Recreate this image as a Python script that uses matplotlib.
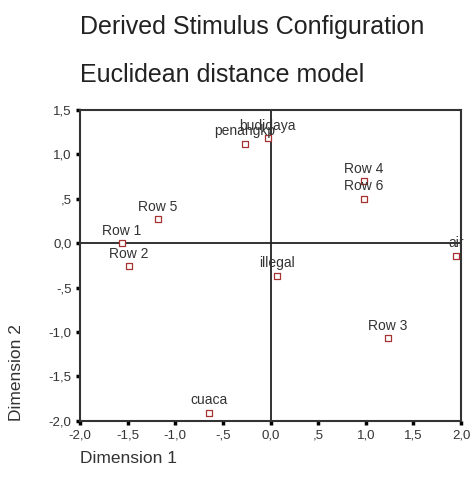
import matplotlib
matplotlib.use('Agg')
import matplotlib.pyplot as plt
from matplotlib.ticker import FuncFormatter

# Stimulus coordinates
labels = ["Row 1", "Row 2", "Row 5", "penangkp", "budidaya", "illegal",
          "Row 4", "Row 6", "air", "Row 3", "cuaca"]
dim1 = [-1.56, -1.49, -1.18, -0.27, -0.03, 0.07, 0.98, 0.98, 1.95, 1.23, -0.65]
dim2 = [0.00, -0.26, 0.27, 1.12, 1.18, -0.37, 0.70, 0.50, -0.14, -1.07, -1.91]

ticks_x = [-2.0, -1.5, -1.0, -0.5, 0.0, 0.5, 1.0, 1.5, 2.0]
ticks_y = [-2.0, -1.5, -1.0, -0.5, 0.0, 0.5, 1.0, 1.5]

plt.rcParams['font.family'] = ['Liberation Sans', 'DejaVu Sans']

MARK = '#a83232'
TEXT = '#333333'


def spss_fmt(v, pos=None):
    """ Comma decimal, no leading zero (SPSS style). """
    s = "{:.1f}".format(v).replace('.', ',')
    if s.startswith('0,') and s != '0,0':
        s = s[1:]
    elif s.startswith('-0,'):
        s = '-' + s[2:]
    return s


fig = plt.figure(figsize=(4.71, 4.90), dpi=100)
ax = fig.add_axes([0.170, 0.1414, 0.809, 0.634])

ax.scatter(dim1, dim2, marker='s', s=16, facecolors='white',
           edgecolors=MARK, linewidths=0.9, zorder=3)

for name, x, y in zip(labels, dim1, dim2):
    ax.annotate(name, (x, y), xytext=(0, 4), textcoords='offset points',
                ha='center', va='bottom', fontsize=10, color=TEXT, zorder=4)

# Reference lines through the origin
ax.axhline(0, color='#222222', lw=1.3, zorder=1)
ax.axvline(0, color='#222222', lw=1.3, zorder=1)

ax.set_xlim(-2.0, 2.0)
ax.set_ylim(-2.0, 1.5)
ax.set_xticks(ticks_x)
ax.set_yticks(ticks_y)
ax.xaxis.set_major_formatter(FuncFormatter(spss_fmt))
ax.yaxis.set_major_formatter(FuncFormatter(spss_fmt))
ax.tick_params(direction='out', length=3, width=2.5, pad=3,
               labelsize=9.5, labelcolor=TEXT)
for sp in ax.spines.values():
    sp.set_color('#333333')
    sp.set_linewidth(1.5)

fig.text(0.170, 0.945, "Derived Stimulus Configuration", fontsize=18,
         color='#222222', ha='left', va='center')
fig.text(0.170, 0.847, "Euclidean distance model", fontsize=18,
         color='#222222', ha='left', va='center')
fig.text(0.170, 0.065, "Dimension 1", fontsize=12.5, color=TEXT,
         ha='left', va='center')
fig.text(0.036, 0.1414, "Dimension 2", fontsize=12.5, color=TEXT,
         rotation=90, ha='center', va='bottom')

fig.savefig('out.png', dpi=100)
